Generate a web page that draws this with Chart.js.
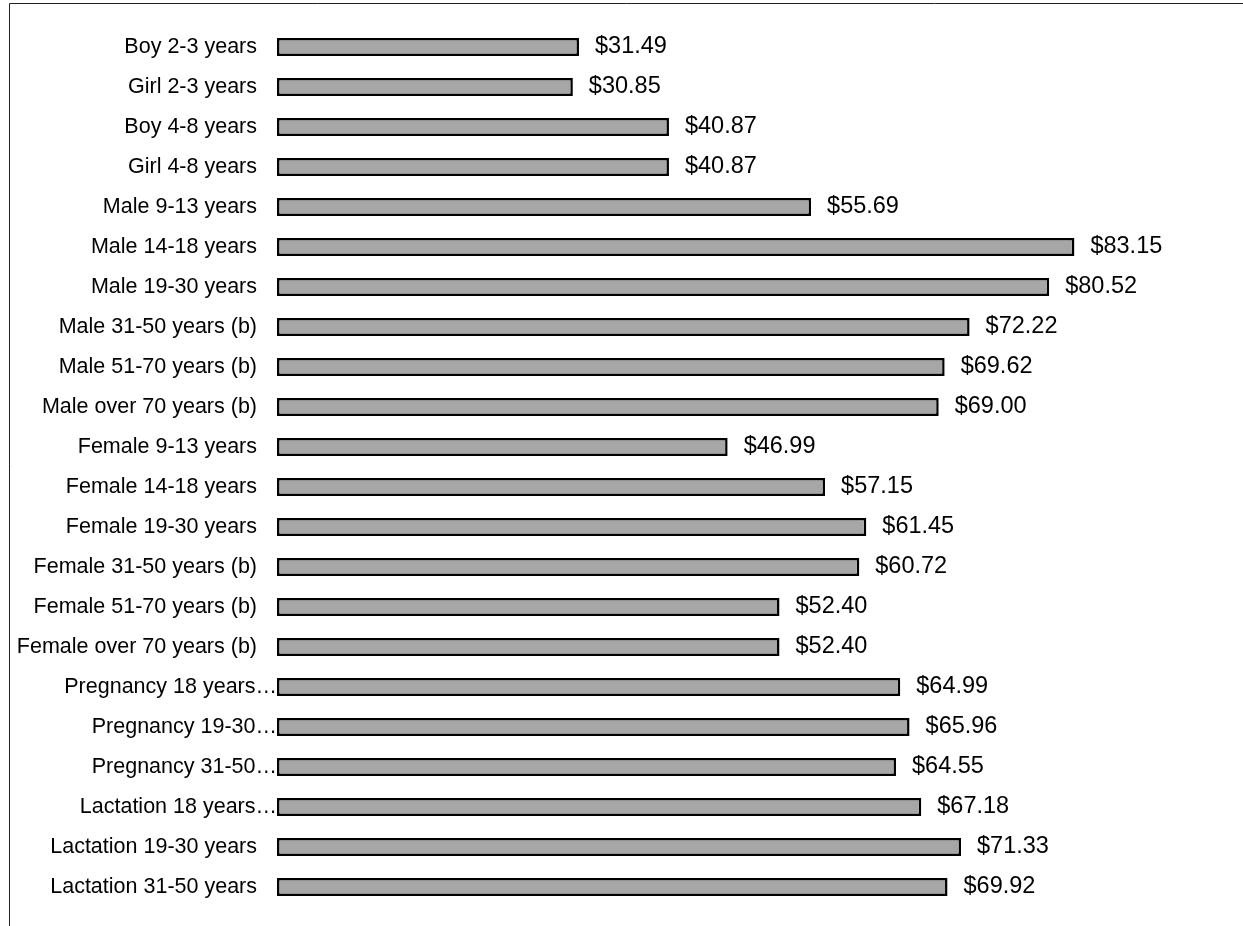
<!DOCTYPE html>
<html>
<head>
<meta charset="utf-8">
<script src="https://cdn.jsdelivr.net/npm/chart.js@4"></script>
<style>
  body { margin: 0; background: #fff; overflow: hidden; }
</style>
</head>
<body>
<canvas id="costChart" width="1243" height="926"></canvas>
<script>
'use strict'

// categories as shown on the chart (Excel cut some of them off)
let groups = [
    'Boy 2-3 years', 'Girl 2-3 years', 'Boy 4-8 years', 'Girl 4-8 years',
    'Male 9-13 years', 'Male 14-18 years', 'Male 19-30 years',
    'Male 31-50 years (b)', 'Male 51-70 years (b)', 'Male over 70 years (b)',
    'Female 9-13 years', 'Female 14-18 years', 'Female 19-30 years',
    'Female 31-50 years (b)', 'Female 51-70 years (b)', 'Female over 70 years (b)',
    'Pregnancy 18 years\u2026', 'Pregnancy 19-30\u2026', 'Pregnancy 31-50\u2026',
    'Lactation 18 years\u2026', 'Lactation 19-30 years', 'Lactation 31-50 years'
];

let weeklyCost = [
    31.49, 30.85, 40.87, 40.87,
    55.69, 83.15, 80.52,
    72.22, 69.62, 69.00,
    46.99, 57.15, 61.45,
    60.72, 52.40, 52.40,
    64.99, 65.96, 64.55,
    67.18, 71.33, 69.92
];

const labelFont = '21.5px "Liberation Sans", Arial, sans-serif';
const valueFont = '23.5px "Liberation Sans", Arial, sans-serif';

// frame, category labels and value labels
const drawExtras = {
    id: 'drawExtras',
    beforeDraw(chart) {
        const ctx = chart.ctx;
        ctx.save();
        ctx.strokeStyle = '#222';
        ctx.lineWidth = 1;
        ctx.beginPath();
        ctx.moveTo(9.5, chart.height);
        ctx.lineTo(9.5, 3.5);
        ctx.lineTo(chart.width, 3.5);
        ctx.stroke();
        ctx.restore();
    },
    afterDatasetsDraw(chart) {
        const ctx = chart.ctx;
        const yScale = chart.scales.y;
        const xScale = chart.scales.x;
        ctx.save();
        ctx.fillStyle = '#000';
        ctx.textBaseline = 'middle';

        ctx.font = labelFont;
        ctx.textAlign = 'right';
        groups.forEach((name, i) => {
            const y = yScale.getPixelForValue(i);
            const cut = name.endsWith('\u2026');
            ctx.fillText(name, chart.chartArea.left - (cut ? 0 : 20), y);
        });

        ctx.font = valueFont;
        ctx.textAlign = 'left';
        weeklyCost.forEach((v, i) => {
            const y = yScale.getPixelForValue(i);
            ctx.fillText('$' + v.toFixed(2), xScale.getPixelForValue(v) + 16, y);
        });
        ctx.restore();
    }
};

const dataCost = {
    labels: groups,
    datasets: [
        {
            data: weeklyCost,
            backgroundColor: '#a6a6a6',
            borderColor: '#000',
            borderWidth: 2.5,
            borderSkipped: false,
            barPercentage: 0.45,
            categoryPercentage: 1.0
        }
    ]
};

const configCost = {
    type: 'bar',
    data: dataCost,
    plugins: [drawExtras],
    options: {
        indexAxis: 'y',
        responsive: false,
        animation: false,
        layout: { padding: { left: 277, right: 7, top: 27, bottom: 19 } },
        plugins: {
            legend: { display: false },
            tooltip: { enabled: false }
        },
        scales: {
            x: { display: false, min: 0, max: 100 },
            y: { display: false }
        }
    }
};

const chartCost = new Chart(document.getElementById('costChart'), configCost);
</script>
</body>
</html>
